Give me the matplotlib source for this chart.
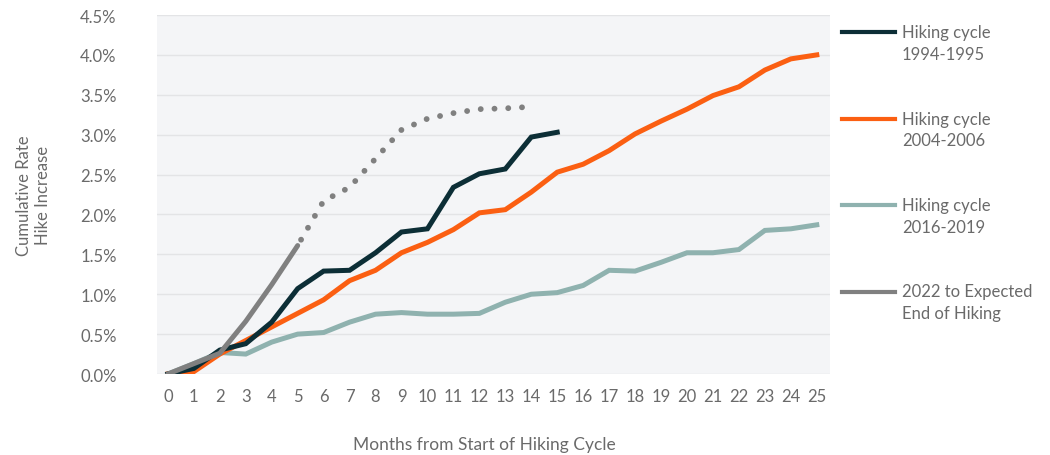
import matplotlib
matplotlib.use('Agg')
import matplotlib.pyplot as plt
from matplotlib.lines import Line2D
from matplotlib.ticker import FuncFormatter, MultipleLocator

plt.rcParams['font.family'] = ['Lato', 'DejaVu Sans']

# months since start of each cycle (index of monthly observation)
months = list(range(26))

hike_1994 = [0.00, 0.07, 0.30, 0.38, 0.65, 1.07, 1.29, 1.30, 1.52, 1.78,
             1.82, 2.34, 2.51, 2.57, 2.97, 3.03]
hike_2004 = [0.00, 0.03, 0.25, 0.42, 0.59, 0.76, 0.93, 1.17, 1.30, 1.52,
             1.65, 1.81, 2.02, 2.06, 2.28, 2.53, 2.63, 2.80, 3.01, 3.17,
             3.32, 3.49, 3.60, 3.81, 3.95, 4.00]
hike_2016 = [0.00, 0.13, 0.27, 0.25, 0.40, 0.50, 0.52, 0.65, 0.75, 0.77,
             0.75, 0.75, 0.76, 0.90, 1.00, 1.02, 1.11, 1.30, 1.29, 1.40,
             1.52, 1.52, 1.56, 1.80, 1.82, 1.87]
hike_2022 = [0.00, 0.13, 0.26, 0.66, 1.12, 1.61]
# market-implied path after month 5
expected_2022 = [1.61, 2.17, 2.34, 2.70, 3.06, 3.20, 3.27, 3.32, 3.33, 3.35]

DARK = '#0c2e36'
ORANGE = '#fb5f12'
TEAL = '#8fb2af'
GRAY = '#808080'
TEXT = '#6a6a6a'

fig = plt.figure(figsize=(10.5, 4.56), dpi=100)
ax = fig.add_axes([0.1495, 0.1776, 0.641, 0.7873])
ax.set_facecolor('#f4f5f7')

lw = 3.6
ax.plot(months[:len(hike_2016)], hike_2016, color=TEAL, lw=lw, solid_joinstyle='miter')
ax.plot(months[:len(hike_2004)], hike_2004, color=ORANGE, lw=lw, solid_joinstyle='miter')
ax.plot(months[:len(hike_1994)], hike_1994, color=DARK, lw=lw, solid_joinstyle='miter')
ax.plot(months[:len(hike_2022)], hike_2022, color=GRAY, lw=lw, solid_capstyle='round')
ax.plot(months[5:5 + len(expected_2022)], expected_2022, color=GRAY, lw=4.2,
        linestyle=(1.2, (0.01, 2.35)), dash_capstyle='round')

ax.set_xlim(-0.42, 25.51)
ax.set_ylim(0, 4.5)
ax.xaxis.set_major_locator(MultipleLocator(1))
ax.yaxis.set_major_locator(MultipleLocator(0.5))
ax.yaxis.set_major_formatter(FuncFormatter(lambda v, p: '%.1f%%' % v))
ax.grid(axis='y', color='#e3e4e6', lw=1)
ax.set_axisbelow(True)
for s in ax.spines.values():
    s.set_visible(False)
ax.tick_params(length=0, labelsize=12, colors=TEXT)
ax.tick_params(axis='x', pad=10)
ax.tick_params(axis='y', pad=29)

ax.set_xlabel('Months from Start of Hiking Cycle', fontsize=12.5, color=TEXT, va='center')
ax.xaxis.set_label_coords(0.486, -0.196)
ax.set_ylabel('Cumulative Rate\nHike Increase', fontsize=12, color=TEXT, labelpad=21)

# legend drawn by hand so each key sits beside the first line of its label
legend_items = [('Hiking cycle', '1994-1995', DARK),
                ('Hiking cycle', '2004-2006', ORANGE),
                ('Hiking cycle', '2016-2019', TEAL),
                ('2022 to Expected', 'End of Hiking', GRAY)]
for i, (line1, line2, col) in enumerate(legend_items):
    y = 1 - (33 + i * 86.5) / 456
    fig.add_artist(Line2D([842 / 1050, 895 / 1050], [y, y], transform=fig.transFigure,
                          color=col, lw=3))
    fig.text(902 / 1050, y, line1, fontsize=12, color=TEXT, va='center')
    fig.text(902 / 1050, y - 22 / 456, line2, fontsize=12, color=TEXT, va='center')

fig.savefig('out.png', dpi=100)
